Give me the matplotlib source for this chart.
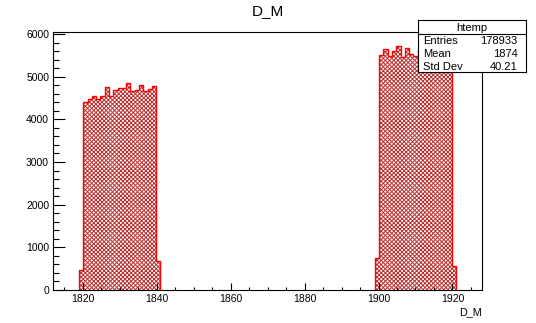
import numpy as np
import matplotlib
matplotlib.use("Agg")
import matplotlib.pyplot as plt
from matplotlib.ticker import MultipleLocator

plt.rcParams['font.family'] = ['Liberation Sans', 'DejaVu Sans']
plt.rcParams['hatch.linewidth'] = 0.7

# histogram definition (htemp: 100 bins)
x_min = 1812.0
x_max = 1928.0
n_bins = 100

# bin contents, two populated blocks
left_first_bin = 6
left_counts = [470, 4400, 4485, 4555, 4485, 4555, 4765, 4540, 4680, 4725,
               4725, 4845, 4665, 4695, 4815, 4665, 4710, 4790, 690]
right_first_bin = 75
right_counts = [745, 5515, 5640, 5485, 5595, 5720, 5470, 5670, 5530, 5485,
                5620, 5700, 5580, 5750, 5610, 5680, 5590, 5640, 565]

stat_names = ["Entries", "Mean", "Std Dev"]
stat_values = ["178933", "1874", "40.21"]
hist_name = "htemp"
title = "D_M"
x_title = "D_M"

edges = np.linspace(x_min, x_max, n_bins + 1)

fig = plt.figure(figsize=(5.36, 3.23), dpi=100)
ax = fig.add_axes([53.3 / 536, 1 - 290 / 323, (482 - 53.3) / 536, (290 - 32.3) / 323])

for first, counts in [(left_first_bin, left_counts), (right_first_bin, right_counts)]:
    e = edges[first:first + len(counts) + 1]
    # checkered fill
    ax.stairs(counts, e, fill=True, facecolor='white', edgecolor='#b83030',
              hatch='xxxxxxxx', linewidth=0)
    ax.stairs(counts, e, baseline=0, fill=False, color='red', linewidth=1.0)

ax.set_xlim(x_min, x_max)
ax.set_ylim(0, 6040)

ax.xaxis.set_major_locator(MultipleLocator(20))
ax.xaxis.set_minor_locator(MultipleLocator(5))
ax.yaxis.set_major_locator(MultipleLocator(1000))
ax.yaxis.set_minor_locator(MultipleLocator(200))
ax.tick_params(axis='x', which='major', direction='in', length=5, width=0.8,
               labelsize=7.5, pad=3, top=False)
ax.tick_params(axis='x', which='minor', direction='in', length=2.5, width=0.8, top=False)
ax.tick_params(axis='y', which='major', direction='in', length=8.8, width=0.8,
               labelsize=7.5, pad=3, right=False)
ax.tick_params(axis='y', which='minor', direction='in', length=4.6, width=0.8, right=False)
for s in ax.spines.values():
    s.set_linewidth(0.8)
    s.set_zorder(5)

ax.set_xlabel(x_title, loc='right', fontsize=7.8, labelpad=2)
fig.text(0.5, 1 - 11 / 323, title, ha='center', va='center', fontsize=11)

# stats box
box = fig.add_axes([418.3 / 536, 1 - 72.3 / 323, (525.7 - 418.3) / 536, (72.3 - 20) / 323])
box.set_xticks([])
box.set_yticks([])
box.set_xlim(0, 1)
box.set_ylim(0, 1)
for s in box.spines.values():
    s.set_linewidth(0.8)
box.axhline(0.727, color='black', linewidth=0.8)
box.text(0.5, 0.855, hist_name, ha='center', va='center', fontsize=8)
for name, val, yy in zip(stat_names, stat_values, [0.6, 0.345, 0.1]):
    box.text(0.047, yy, name, ha='left', va='center', fontsize=8)
    box.text(0.925, yy, val, ha='right', va='center', fontsize=8)

fig.savefig("out.png", dpi=100)
